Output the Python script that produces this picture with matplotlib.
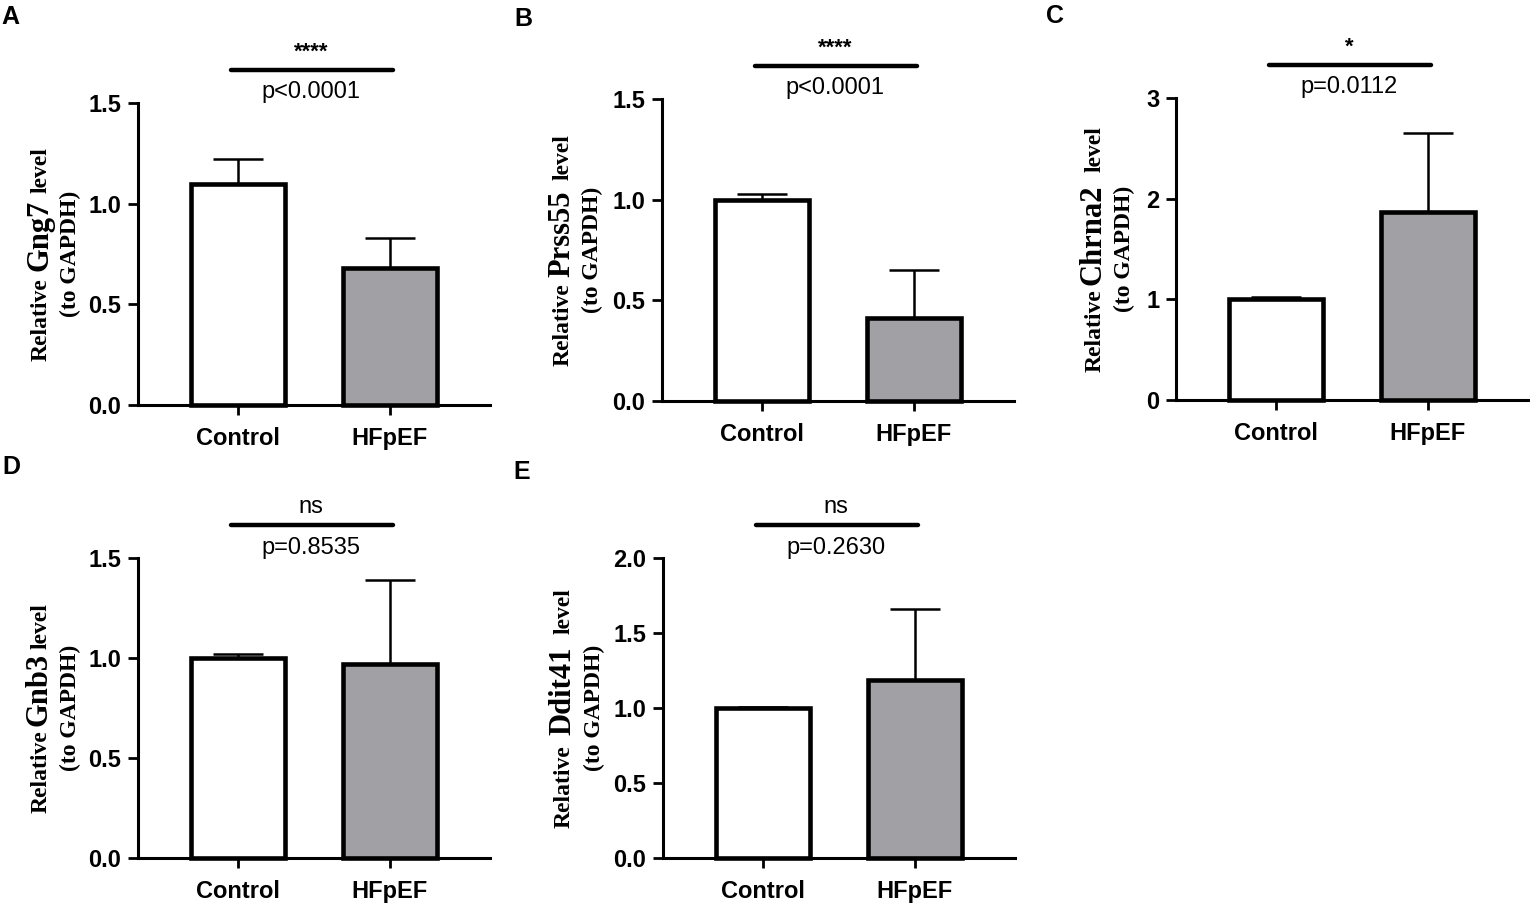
import matplotlib
matplotlib.use("Agg")
import matplotlib.pyplot as plt
from matplotlib.transforms import IdentityTransform
import numpy as np

# ----------------------------
#   Данные
# ----------------------------
groups = ["Control", "HFpEF"]
genes = ["Gng7", "Prss55", "Chrna2", "Gnb3", "Ddit41"]
panel_letters = ["A", "B", "C", "D", "E"]

ctrl_mean = [1.10, 1.00, 1.00, 1.00, 1.00]
ctrl_err = [0.12, 0.03, 0.02, 0.02, 0.01]
hf_mean = [0.68, 0.41, 1.87, 0.97, 1.19]
hf_err = [0.15, 0.24, 0.78, 0.42, 0.47]

sig_marks = ["****", "****", "*", "ns", "ns"]
p_texts = ["p<0.0001", "p<0.0001", "p=0.0112", "p=0.8535", "p=0.2630"]

y_max = [1.5, 1.5, 3.0, 1.5, 2.0]
y_step = [0.5, 0.5, 1.0, 0.5, 0.5]
y_fmt = ["{:.1f}", "{:.1f}", "{:.0f}", "{:.1f}", "{:.1f}"]

# зазоры (px) в подписи оси y: после "Relative" и после названия гена
label_gaps = [(7, 7), (6, 10), (4, 12), (4, 4), (10, 12)]
GENE_SIZE = 22
WORD_SIZE = 17

# ----------------------------
#   Раскладка (пиксели)
# ----------------------------
W, H = 1530, 905
# left, y нуля (px от верха), высота px
axes_px = [
    (138, 405, 302),
    (662, 401, 302),
    (1176, 400, 302),
    (138, 858, 300),
    (663, 858, 300),
]
label_off = [(91, 62), (93, 64), (75, 46), (91, 62), (93, 63)]
letter_px = [(1, 24), (514, 26), (1046, 23), (2, 474), (513, 479)]
AX_W = 352

SANS = "Liberation Sans"
SERIF = "Liberation Serif"
GRAY = "#a1a1a5"

fig = plt.figure(figsize=(W / 100, H / 100), dpi=100)
renderer = fig.canvas.get_renderer()
x = np.arange(len(groups))

for i in range(5):
    left, y0, hpx = axes_px[i]
    ax = fig.add_axes([left / W, (H - y0) / H, AX_W / W, hpx / H])

    means = [ctrl_mean[i], hf_mean[i]]
    errs = [ctrl_err[i], hf_err[i]]
    ax.bar(x, means, width=0.62, color=["white", GRAY], edgecolor="black",
           linewidth=3.3, zorder=3, clip_on=False)
    ax.errorbar(x, means, yerr=[[0, 0], errs], fmt="none", ecolor="black",
                elinewidth=1.8, capsize=18, capthick=1.8, zorder=2, clip_on=False)

    ax.set_xlim(-0.66, 1.66)
    ax.set_ylim(0, y_max[i])
    ticks = np.arange(0, y_max[i] + 1e-9, y_step[i])
    ax.set_yticks(ticks)
    ax.set_yticklabels([y_fmt[i].format(t) for t in ticks])
    ax.set_xticks(x)
    ax.set_xticklabels(groups)

    for s in ("top", "right"):
        ax.spines[s].set_visible(False)
    for s in ("left", "bottom"):
        ax.spines[s].set_linewidth(2.2)
    ax.tick_params(axis="both", length=7, width=2.0, direction="out")
    ax.tick_params(axis="y", pad=5)
    ax.tick_params(axis="x", pad=9)
    for lab in ax.get_yticklabels() + ax.get_xticklabels():
        lab.set_fontfamily(SANS)
        lab.set_fontweight("bold")
        lab.set_fontsize(17)

    # линия значимости
    tr = ax.get_xaxis_transform()
    ax.plot([-0.05, 1.02], [1.11, 1.11], color="black", lw=3.2,
            solid_capstyle="round", transform=tr, clip_on=False)
    if sig_marks[i] == "ns":
        ax.text(0.48, 1.15, "ns", transform=tr, ha="center", va="baseline",
                fontsize=17, family=SANS)
    else:
        ax.text(0.48, 1.15, sig_marks[i], transform=tr, ha="center",
                va="baseline", fontsize=16, fontweight="bold", family=SANS)
    ax.text(0.48, 1.015, p_texts[i], transform=tr, ha="center", va="baseline",
            fontsize=17, family=SANS)

    # подпись оси y: "Relative <ген> level", ген крупнее
    yc = H - y0 + hpx / 2
    off1, off2 = label_off[i]
    g1, g2 = label_gaps[i]
    pieces = [("Relative", WORD_SIZE, g1), (genes[i], GENE_SIZE, g2),
              ("level", WORD_SIZE, 0)]
    parts = []
    for s, size, gap in pieces:
        t = fig.text(0, 0, s, rotation=90, rotation_mode="anchor", ha="left",
                     va="baseline", fontsize=size, fontweight="bold",
                     family=SERIF, transform=IdentityTransform())
        parts.append((t, gap))
    lens = [t.get_window_extent(renderer).height + g for t, g in parts]
    ypos = yc - sum(lens) / 2
    for (t, g), ln in zip(parts, lens):
        t.set_position((left - off1, ypos))
        ypos += ln
    fig.text(left - off2, yc, "(to GAPDH)", rotation=90, rotation_mode="anchor",
             ha="center", va="baseline", fontsize=17, fontweight="bold",
             family=SERIF, transform=IdentityTransform())

    lx, ly = letter_px[i]
    fig.text(lx, H - ly, panel_letters[i], ha="left", va="baseline",
             fontsize=18, fontweight="bold", family=SANS,
             transform=IdentityTransform())

fig.savefig("out.png", dpi=100)
